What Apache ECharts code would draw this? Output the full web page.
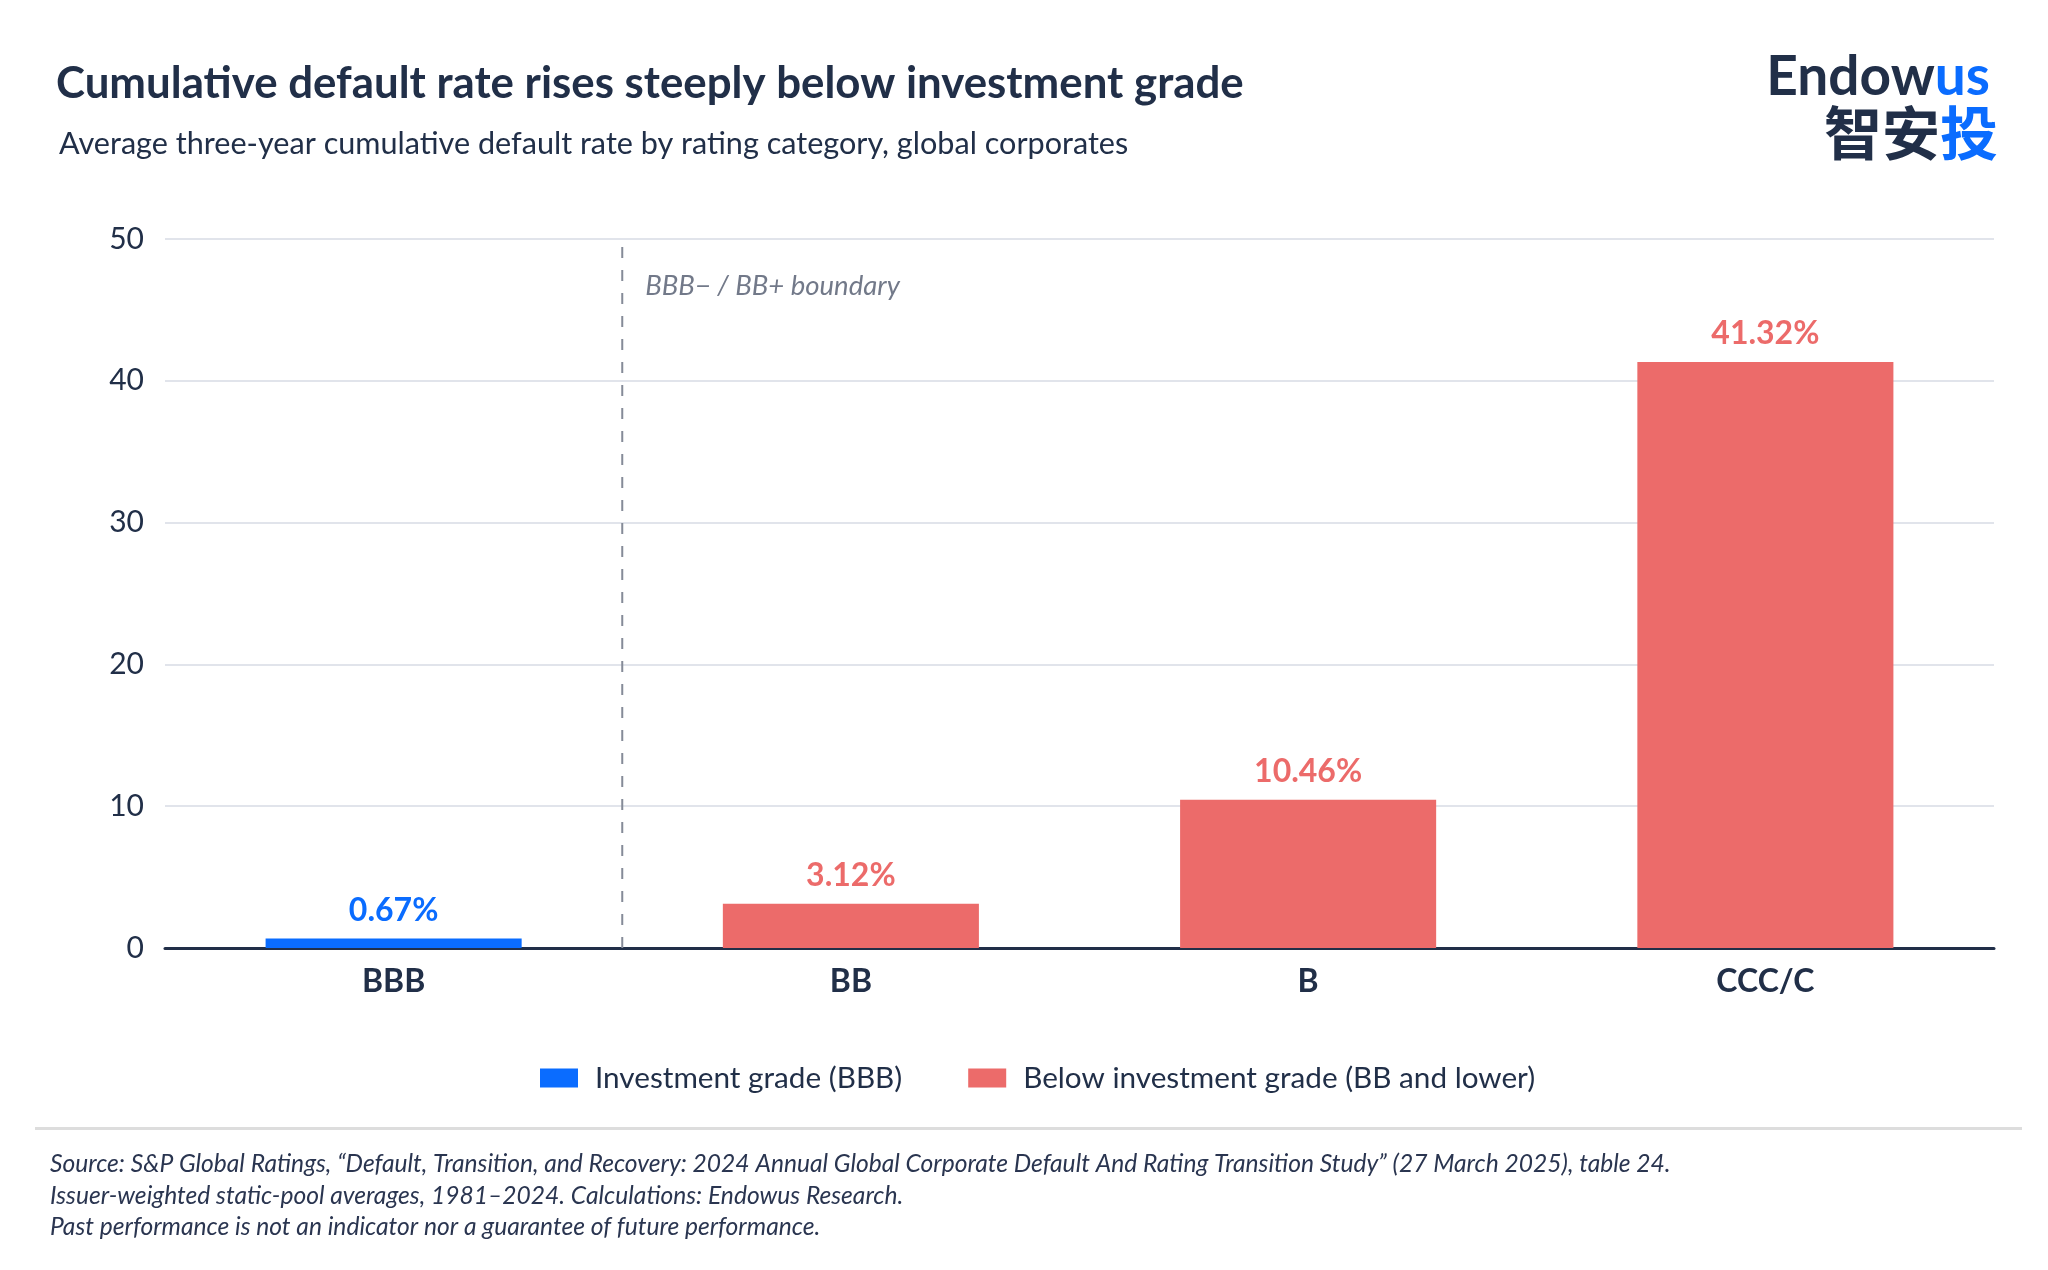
<!DOCTYPE html>
<html>
<head>
<meta charset="utf-8">
<script src="https://cdn.jsdelivr.net/npm/echarts@6/dist/echarts.min.js"></script>
<style>
  html, body { margin: 0; padding: 0; background: #ffffff; }
  #chart { width: 2048px; height: 1270px; }
</style>
</head>
<body>
<div id="chart"></div>
<script>
// chart data
var categories = ['BBB', 'BB', 'B', 'CCC/C'];
var investmentGrade = [0.67, null, null, null];
var belowInvestmentGrade = [null, 3.12, 10.46, 41.32];
var yMin = 0, yMax = 50, yStep = 10;
// boundary between BBB and BB sits half-way between categories 0 and 1
var boundaryPos = 0.5;
var boundaryTop = 49.7;
var boundaryLabelY = 46.7;

var NAVY = '#212f48';
var BLUE = '#0a6cff';
var RED = '#ec6b6a';
var FONT = 'Lato';

var footnotes = [
    'Source: S&P Global Ratings, \u201cDefault, Transition, and Recovery: 2024 Annual Global Corporate Default And Rating Transition Study\u201d (27 March 2025), table 24.',
    'Issuer-weighted static-pool averages, 1981\u20132024. Calculations: Endowus Research.',
    'Past performance is not an indicator nor a guarantee of future performance.'
];

var myChart = echarts.init(document.getElementById('chart'));

var graphics = [
    { type: 'text', left: 56, top: 62, style: { text: 'Cumulative default rate rises steeply below investment grade', font: 'bold 43.8px ' + FONT, fill: NAVY } },
    { type: 'text', left: 59, top: 129, style: { text: 'Average three-year cumulative default rate by rating category, global corporates', font: '30.6px ' + FONT, fill: NAVY } },
    { type: 'text', right: 58, top: 50, style: {
        text: '{a|Endow}{b|us}',
        rich: {
            a: { fontFamily: FONT, fontWeight: 'bold', fontSize: 55, fill: NAVY },
            b: { fontFamily: FONT, fontWeight: 'bold', fontSize: 55, fill: BLUE }
        }
    } },
    { type: 'text', right: 50, top: 104, style: {
        text: '{a|\u667a\u5b89}{b|\u6295}',
        rich: {
            a: { fontFamily: 'Noto Sans CJK SC', fontWeight: 'bold', fontSize: 58, fill: NAVY },
            b: { fontFamily: 'Noto Sans CJK SC', fontWeight: 'bold', fontSize: 58, fill: BLUE }
        }
    } },
    { type: 'rect', shape: { x: 35, y: 1127, width: 1987, height: 3 }, style: { fill: '#dddddd' } }
];
footnotes.forEach(function (line, i) {
    graphics.push({ type: 'text', left: 50, top: 1152 + i * 31.5, style: { text: line, font: 'italic 24.6px ' + FONT, fill: '#2a3550' } });
});

var option = {
    backgroundColor: '#ffffff',
    textStyle: { fontFamily: FONT },
    animation: false,
    graphic: graphics,
    legend: {
        data: ['Investment grade (BBB)', 'Below investment grade (BB and lower)'],
        left: 535,
        top: 1058,
        icon: 'rect',
        itemWidth: 38,
        itemHeight: 19,
        itemGap: 66,
        textStyle: { fontFamily: FONT, fontSize: 29.7, color: NAVY, padding: [0, 0, 0, 12] }
    },
    grid: { left: 165, right: 54, top: 239, bottom: 322 },
    xAxis: [{
        type: 'category',
        data: categories,
        axisLine: { lineStyle: { color: NAVY, width: 3 } },
        axisTick: { show: false },
        axisLabel: { fontFamily: FONT, fontSize: 32, fontWeight: 'bold', color: NAVY, margin: 18 }
    }, {
        type: 'value',
        min: -0.5,
        max: 3.5,
        show: false
    }],
    yAxis: {
        type: 'value',
        min: yMin,
        max: yMax,
        interval: yStep,
        axisLine: { show: false },
        axisTick: { show: false },
        axisLabel: { fontFamily: FONT, fontSize: 30, color: NAVY, margin: 21 },
        splitLine: { lineStyle: { color: '#e1e4eb', width: 2 } }
    },
    series: [{
        name: 'Investment grade (BBB)',
        type: 'bar',
        data: investmentGrade,
        barWidth: '56%',
        barGap: '-100%',
        itemStyle: { color: BLUE },
        label: {
            show: true, position: 'top', distance: 12,
            formatter: function (p) { return p.value.toFixed(2) + '%'; },
            fontFamily: FONT, fontSize: 32, fontWeight: 'bold', color: BLUE
        }
    }, {
        name: 'Below investment grade (BB and lower)',
        type: 'bar',
        data: belowInvestmentGrade,
        barWidth: '56%',
        barGap: '-100%',
        itemStyle: { color: RED },
        label: {
            show: true, position: 'top', distance: 12,
            formatter: function (p) { return p.value.toFixed(2) + '%'; },
            fontFamily: FONT, fontSize: 32, fontWeight: 'bold', color: RED
        }
    }, {
        name: 'boundary',
        type: 'line',
        xAxisIndex: 1,
        data: [[boundaryPos, yMin], [boundaryPos, boundaryTop]],
        symbol: 'none',
        silent: true,
        lineStyle: { color: '#858b98', width: 2, type: [11, 12] },
        z: 1
    }, {
        name: 'boundary label',
        type: 'scatter',
        xAxisIndex: 1,
        data: [[boundaryPos, boundaryLabelY]],
        symbolSize: 0,
        silent: true,
        label: {
            show: true, position: 'right', distance: 23,
            formatter: 'BBB\u2212 / BB+ boundary',
            fontFamily: FONT, fontSize: 27.5, fontStyle: 'italic', color: '#4f586b'
        }
    }]
};

myChart.setOption(option);
</script>
</body>
</html>
